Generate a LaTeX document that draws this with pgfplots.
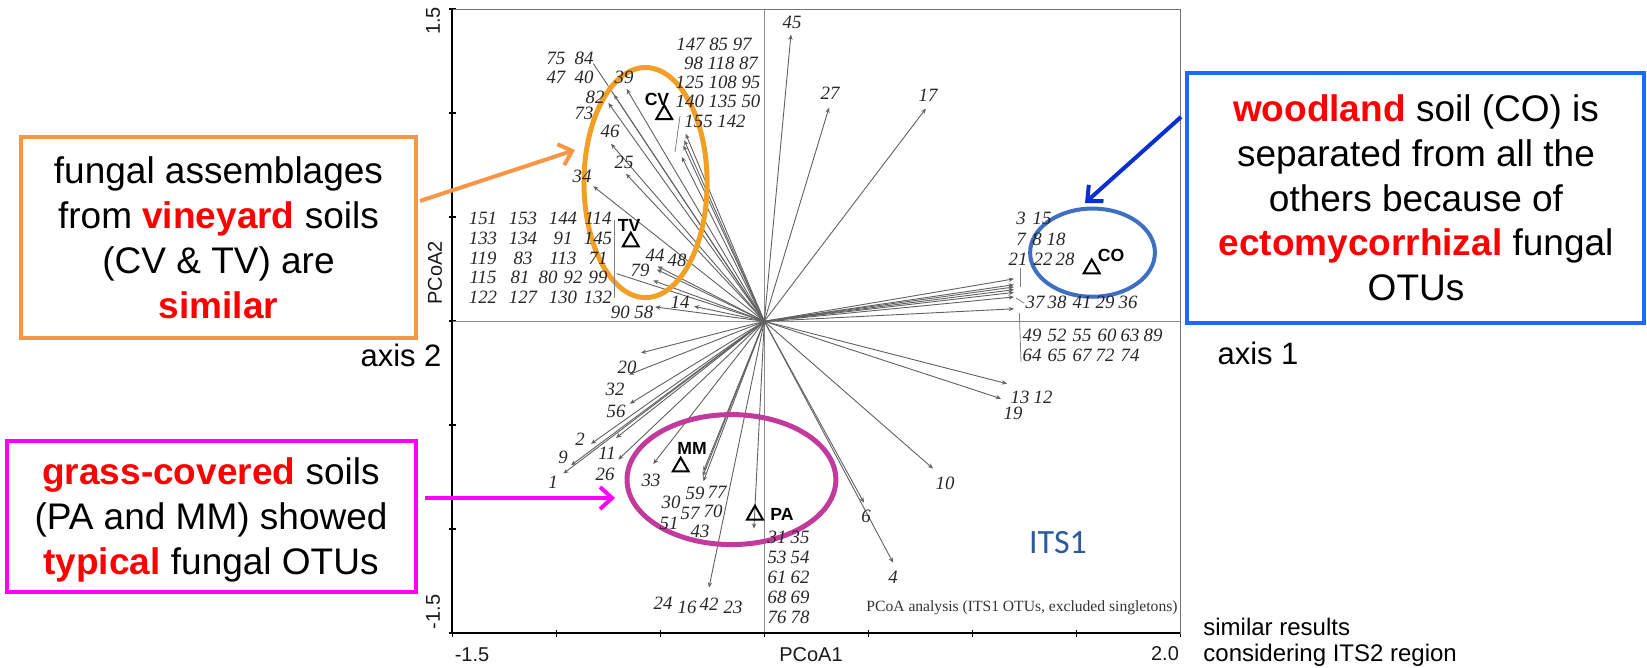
\documentclass[border=0pt]{standalone}
\usepackage{fontspec}
\setmainfont{Liberation Sans}
\newfontfamily\tnr{Liberation Serif}
\newfontfamily\calib{Carlito}
\usepackage{pgfplots}
\pgfplotsset{compat=1.18}
\usetikzlibrary{arrows.meta}
\definecolor{orangeB}{HTML}{F79646}
\definecolor{orangeE}{HTML}{F2A025}
\definecolor{magB}{HTML}{FF00FF}
\definecolor{magE}{HTML}{C23B9C}
\definecolor{blueB}{HTML}{1A6BFF}
\definecolor{blueE}{HTML}{3F6FC0}
\definecolor{blueA}{HTML}{0A2FD0}
\definecolor{itsblue}{HTML}{2B5AA0}
\pgfplotstableread{
x y u v
0 0 -0.662 1.117
0 0 -0.723 1.090
0 0 -0.750 1.050
0 0 -0.737 0.853
0 0 -0.665 0.709
0 0 -0.822 0.649
0 0 -0.378 0.901
0 0 -0.385 0.870
0 0 -0.389 0.845
0 0 -0.397 0.790
0 0 -0.513 0.264
0 0 -0.517 0.249
0 0 -0.534 0.196
0 0 -0.338 0.072
0 0 -0.525 0.069
0 0 0.128 1.378
0 0 0.311 1.027
0 0 0.777 1.023
0 0 1.200 0.204
0 0 1.200 0.176
0 0 1.200 0.165
0 0 1.200 0.152
0 0 1.200 0.139
0 0 1.200 0.117
0 0 1.200 0.060
0 0 1.167 -0.300
0 0 1.138 -0.372
0 0 0.811 -0.708
0 0 0.479 -0.872
0 0 0.619 -1.160
0 0 -0.593 -0.152
0 0 -0.650 -0.256
0 0 -0.646 -0.396
0 0 -0.833 -0.589
0 0 -0.713 -0.561
0 0 -0.929 -0.692
0 0 -0.966 -0.732
0 0 -0.702 -0.665
0 0 -0.534 -0.686
0 0 -0.293 -0.721
0 0 -0.296 -0.745
0 0 -0.293 -0.769
0 0 -0.050 -0.997
0 0 -0.266 -1.280
}\arrowtab
\begin{document}
\begin{tikzpicture}
\useasboundingbox (0,0) rectangle (823.5pt,334pt);
\begin{axis}[
  at={(226.15pt,17.35pt)}, anchor=south west,
  x=104pt, y=104pt,
  xmin=-1.5, xmax=2, ymin=-1.5, ymax=1.5,
  xtick={-1.5,-1,-0.5,0,0.5,1,1.5,2},
  ytick={-1.5,-1,-0.5,0,0.5,1,1.5},
  xticklabels={,,,,,,,}, yticklabels={,,,,,,},
  tick align=center, xtick pos=bottom, ytick pos=left,
  major tick length=3.5pt,
  tick style={black, line width=0.8pt},
  axis line style={black!55, line width=0.6pt},
  clip=false,
]
\draw[black!45, line width=0.7pt] (axis cs:0,-1.5) -- (axis cs:0,1.5);
\draw[black!45, line width=0.7pt] (axis cs:-1.5,0) -- (axis cs:2,0);
\draw[black, line width=1pt] (axis cs:-1.5,1.5) -- (axis cs:-1.5,-1.5) -- (axis cs:2,-1.5);
\addplot[black!62, line width=0.45pt, -{Stealth[length=2.6pt,width=2.2pt]},
  quiver={u=\thisrow{u}, v=\thisrow{v}}] table[x=x,y=y] {\arrowtab};
\addplot[black!62, line width=0.45pt] coordinates {(0,0) (-0.822,1.239)};
\addplot[black!62, line width=0.45pt] coordinates {(0,0) (-0.710,0.229)};
\addplot[only marks, mark=triangle, mark size=4.6pt, black, line width=1pt]
  coordinates {(-0.481,0.994) (-0.642,0.382) (1.574,0.253) (-0.402,-0.700) (-0.045,-0.931)};
\draw[orangeE, line width=2.5pt] (axis cs:-0.571,0.667) ellipse [x radius=0.296, y radius=0.553];
\draw[blueE, line width=2pt] (axis cs:1.578,0.330) ellipse [x radius=0.300, y radius=0.212];
\draw[magE, line width=2.5pt] (axis cs:-0.158,-0.761) ellipse [x radius=0.502, y radius=0.3125];
\end{axis}
\begin{scope}[x=0.5pt, y=-0.5pt, yshift=334pt,
  num/.style={font=\tnr\itshape\fontsize{9.4}{10}\selectfont, text=black!85, inner sep=0pt},
  grp/.style={font=\bfseries\fontsize{8.8}{10}\selectfont, inner sep=0pt},
  tl/.style={font=\fontsize{10}{12}\selectfont, text=black!90, inner sep=0pt}]
% leader lines
\draw[black!50, line width=0.4pt] (680,116) -- (675,152);
\draw[black!50, line width=0.4pt] (614.3,220) -- (614.3,298);
\draw[black!50, line width=0.4pt] (1020,268) -- (1020,287);
\draw[black!50, line width=0.4pt] (1019.3,313) -- (1021,362);
\draw[black!50, line width=0.4pt] (1016,298) -- (1024,303);
% tick labels and axis titles
\node[tl, rotate=90] at (433,21) {1.5};
\node[tl, rotate=90] at (433,612) {-1.5};
\node[tl] at (472,655) {-1.5};
\node[tl] at (1165,654) {2.0};
\node[tl] at (811,655) {PCoA1};
\node[tl, rotate=90] at (435,273) {PCoA2};
% group labels
\node[grp] at (657,99) {CV};
\node[grp] at (629,225) {TV};
\node[grp] at (1111,255) {CO};
\node[grp] at (692,448) {MM};
\node[grp] at (782,514) {PA};
% numbers upper left
\node[num] at (792,22) {45};
\node[num] at (570,58) {75\ \ 84};
\node[num] at (570,77) {47\ \ 40};
\node[num] at (624,77) {39};
\node[num] at (595,97) {82};
\node[num] at (584,113) {73};
\node[num] at (610,131) {46};
\node[num] at (624,162) {25};
\node[num] at (582,176) {34};
\node[num] at (714,44) {147 85 97};
\node[num] at (721,63) {98 118 87};
\node[num] at (718,82) {125 108 95};
\node[num] at (718,101) {140 135 50};
\node[num] at (715,121) {155 142};
% TV group
\foreach \a/\b/\c/\d [count=\r] in {151/153/144/114, 133/134/91/145, 119/83/113/71, 122/127/130/132}{
  \pgfmathsetmacro{\yy}{\r<4 ? 218+20*(\r-1) : 297}
  \node[num] at (483,\yy) {\a};
  \node[num] at (523,\yy) {\b};
  \node[num] at (563,\yy) {\c};
  \node[num] at (598,\yy) {\d};
}
\node[num] at (483,277) {115};
\node[num] at (520,277) {81};
\node[num] at (548,277) {80};
\node[num] at (573,277) {92};
\node[num] at (598,277) {99};
\node[num] at (655,255) {44};
\node[num] at (677,260) {48};
\node[num] at (640,270) {79};
\node[num] at (680,302) {14};
\node[num] at (632,312) {90 58};
% upper right
\node[num] at (830,93) {27};
\node[num] at (928,95) {17};
\node[num] at (1021,218) {3};
\node[num] at (1042,218) {15};
\node[num] at (1021,239) {7};
\node[num] at (1037,239) {8};
\node[num] at (1056,239) {18};
\node[num] at (1018,259) {21};
\node[num] at (1043,259) {22};
\node[num] at (1065,259) {28};
\node[num] at (1035,302) {37};
\node[num] at (1057,302) {38};
\node[num] at (1082,302) {41};
\node[num] at (1105,302) {29};
\node[num] at (1128,302) {36};
\foreach \n/\xx in {49/1032,52/1057,55/1082,60/1107,63/1130,89/1153}{\node[num] at (\xx,335) {\n};}
\foreach \n/\xx in {64/1032,65/1057,67/1082,72/1105,74/1130}{\node[num] at (\xx,355) {\n};}
% lower right
\node[num] at (1020,397) {13};
\node[num] at (1043,397) {12};
\node[num] at (1013,413) {19};
\node[num] at (945,483) {10};
\node[num] at (866,516) {6};
\node[num] at (893,577) {4};
% lower left
\node[num] at (627,367) {20};
\node[num] at (615,389) {32};
\node[num] at (616,411) {56};
\node[num] at (580,439) {2};
\node[num] at (607,453) {11};
\node[num] at (563,457) {9};
\node[num] at (553,482) {1};
\node[num] at (605,474) {26};
\node[num] at (651,480) {33};
\node[num] at (695,493) {59};
\node[num] at (717,492) {77};
\node[num] at (671,502) {30};
\node[num] at (690,513) {57};
\node[num] at (713,511) {70};
\node[num] at (669,523) {51};
\node[num] at (700,531) {43};
\foreach \a/\b [count=\r] in {31/35,53/54,61/62,68/69,76/78}{
  \pgfmathsetmacro{\yy}{537+20.2*(\r-1)}
  \node[num] at (777,\yy) {\a};
  \node[num] at (800,\yy) {\b};
}
\node[num] at (663,603) {24};
\node[num] at (687,607) {16};
\node[num] at (709,604) {42};
\node[num] at (733,607) {23};
% in-plot texts
\node[font=\calib\fontsize{17}{20}\selectfont, text=itsblue, inner sep=0pt] at (1058,543) {ITS1};
\node[font=\tnr\fontsize{7.8}{9}\selectfont, text=black!80, inner sep=0pt] at (1022,608) {PCoA analysis (ITS1 OTUs, excluded singletons)};
% annotation boxes
\draw[orangeB, line width=1.8pt] (21,137) rectangle (416,338);
\node[align=center, font=\fontsize{18.5}{22.5}\selectfont, inner sep=0pt] at (218.5,238) {fungal assemblages\\from \textcolor{red}{\textbf{vineyard}} soils\\(CV \& TV) are\\\textcolor{red}{\textbf{similar}}};
\draw[magB, line width=2pt] (7,441) rectangle (416,592);
\node[align=center, font=\fontsize{18.5}{22.5}\selectfont, inner sep=0pt] at (211,520) {\textcolor{red}{\textbf{grass-covered}} soils\\(PA and MM) showed\\\textcolor{red}{\textbf{typical}} fungal OTUs};
\draw[blueB, line width=2pt] (1187,73) rectangle (1644,323);
\node[align=center, font=\fontsize{18.5}{22.35}\selectfont, inner sep=0pt] at (1416,198) {\textcolor{red}{\textbf{woodland}} soil (CO) is\\separated from all the\\others because of\\\textcolor{red}{\textbf{ectomycorrhizal}} fungal\\OTUs};
% annotation arrows
\draw[orangeB, line width=2pt, -{Straight Barb[length=6pt,width=11pt]}] (420,201) -- (575,150);
\draw[magB, line width=2pt, -{Straight Barb[length=6pt,width=11pt]}] (425,498) -- (615,498);
\draw[blueA, line width=2pt, -{Straight Barb[length=6pt,width=11pt]}] (1181,117) -- (1085,203);
% side texts
\node[font=\fontsize{15.5}{18}\selectfont, inner sep=0pt] at (401,355) {axis 2};
\node[font=\fontsize{15.5}{18}\selectfont, inner sep=0pt] at (1258,353) {axis 1};
\node[font=\fontsize{12}{14}\selectfont, inner sep=0pt, anchor=west] at (1203,627) {similar results};
\node[font=\fontsize{12}{14}\selectfont, inner sep=0pt, anchor=west] at (1203,655) {considering ITS2 region};
\end{scope}
\end{tikzpicture}
\end{document}
